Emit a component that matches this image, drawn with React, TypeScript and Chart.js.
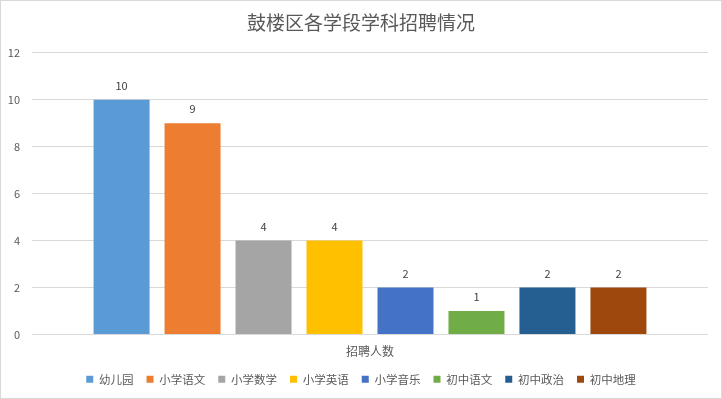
import React, { useEffect, useRef } from "react";
import { Chart, registerables } from "chart.js";

Chart.register(...registerables);

const title = "鼓楼区各学段学科招聘情况";
const categories = ["招聘人数"];
const seriesNames = ["幼儿园", "小学语文", "小学数学", "小学英语", "小学音乐", "初中语文", "初中政治", "初中地理"];
const seriesValues = [10, 9, 4, 4, 2, 1, 2, 2];
const seriesColors = ["#5B9BD5", "#ED7D31", "#A5A5A5", "#FFC000", "#4472C4", "#70AD47", "#255E91", "#9E480E"];
const yTicks = [0, 2, 4, 6, 8, 10, 12];

const FONT = '"Noto Sans CJK SC", "Noto Sans", sans-serif';

const valueLabels = {
  id: "valueLabels",
  afterDatasetsDraw(chart: any) {
    const ctx = chart.ctx;
    ctx.save();
    ctx.font = `11px ${FONT}`;
    ctx.fillStyle = "#404040";
    ctx.textAlign = "center";
    ctx.textBaseline = "middle";
    chart.data.datasets.forEach((ds: any, i: number) => {
      const meta = chart.getDatasetMeta(i);
      meta.data.forEach((el: any, j: number) => {
        ctx.fillText(String(ds.data[j]), el.x, el.y - 14);
      });
    });
    ctx.restore();
  },
};

export default function App() {
  const ref = useRef<HTMLCanvasElement>(null);
  useEffect(() => {
    if (!ref.current) return;
    const chart = new Chart(ref.current, {
      type: "bar",
      data: {
        labels: categories,
        datasets: seriesNames.map((name, i) => ({
          label: name,
          data: [seriesValues[i]],
          backgroundColor: seriesColors[i],
          borderWidth: 0,
          categoryPercentage: 0.84,
          barPercentage: 0.789,
        })),
      },
      options: {
        animation: false,
        responsive: false,
        maintainAspectRatio: false,
        layout: { padding: { left: 0, right: 0, top: 0, bottom: 3 } },
        plugins: {
          title: {
            display: true,
            text: title,
            color: "#595959",
            font: { family: FONT, size: 19, weight: "normal" },
            padding: { top: 10, bottom: 19 },
          },
          legend: {
            position: "bottom",
            labels: {
              boxWidth: 7,
              boxHeight: 7,
              padding: 13,
              color: "#595959",
              font: { family: FONT, size: 11.5 },
            },
          },
          tooltip: { enabled: false },
        },
        scales: {
          x: {
            grid: { display: false, drawTicks: false },
            border: { display: false },
            ticks: { color: "#595959", font: { family: FONT, size: 12 }, padding: 10 },
            afterFit(scale: any) {
              scale.height = 26;
            },
          },
          y: {
            min: 0,
            max: 12,
            afterFit(scale: any) {
              scale.width = 31;
            },
            afterBuildTicks(scale: any) {
              scale.ticks = yTicks.map((v) => ({ value: v }));
            },
            grid: { color: "#D9D9D9", drawTicks: false },
            border: { display: false },
            ticks: { color: "#595959", font: { family: FONT, size: 11 }, padding: 12 },
          },
          yRight: {
            type: "linear",
            position: "right",
            display: true,
            grid: { display: false, drawTicks: false },
            border: { display: false },
            ticks: { display: false },
            afterFit(scale: any) {
              scale.width = 13;
            },
          },
        },
      },
      plugins: [valueLabels],
    });
    return () => chart.destroy();
  }, []);
  return (
    <div
      style={{
        position: "absolute",
        left: 0,
        top: 0,
        width: 722,
        height: 399,
        border: "1px solid #D9D9D9",
        boxSizing: "border-box",
        background: "#fff",
      }}
    >
      <canvas ref={ref} width={720} height={397} style={{ display: "block" }} />
    </div>
  );
}
